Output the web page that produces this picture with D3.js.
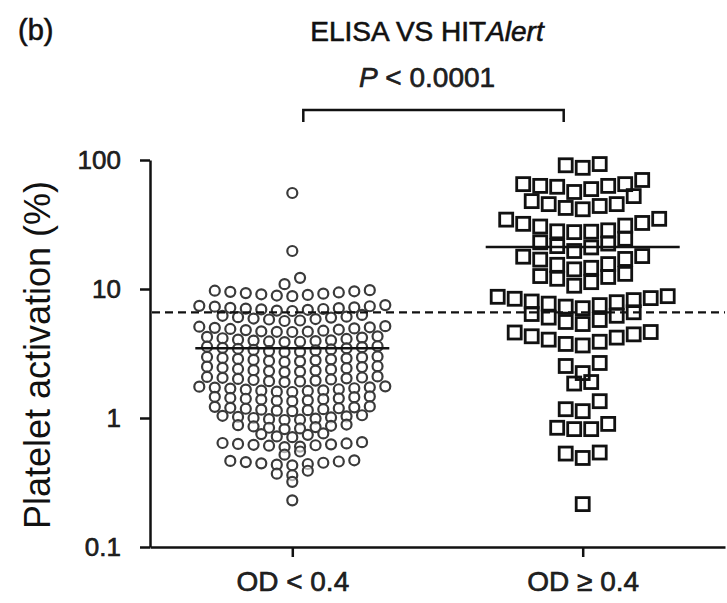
<!DOCTYPE html>
<html>
<head>
<meta charset="utf-8">
<script src="https://cdn.jsdelivr.net/npm/d3@7"></script>
<style>
  body { margin: 0; background: #fff; }
  svg { display: block; font-family: "Liberation Sans", Arial, sans-serif; }
  .lbl { stroke: #111; stroke-width: 0.6px; }
</style>
</head>
<body>
<svg id="chart" width="727" height="603"></svg>
<script>
// groups on the x axis
const groups = ["OD < 0.4", "OD \u2265 0.4"];
const yTicks = [0.1, 1, 10, 100];
const cutoff = 6.6; // dashed positivity threshold (%)

// platelet activation (%), OD < 0.4 (circles)
const odLow = [
  55.5, 19.7, 12.2, 10.9,
  9.8, 9.7, 9.6, 9.5, 9.4, 9.3, 9.2, 9.1, 9.0, 8.9, 8.8,
  7.5, 7.4, 7.35, 7.3, 7.2, 7.15, 7.1, 7.05, 7.0, 6.95, 6.9, 6.8, 6.75,
  6.3, 6.2, 6.1, 6.05, 6.0, 5.9, 5.85, 5.8, 5.7, 5.65,
  5.15, 5.1, 5.05, 5.0, 4.95, 4.9, 4.85, 4.8, 4.75, 4.7, 4.68, 4.66, 4.64,
  4.3, 4.25, 4.2, 4.15, 4.1, 4.05, 4.0, 3.98, 3.95, 3.92, 3.9, 3.88,
  3.6, 3.57, 3.54, 3.5, 3.47, 3.44, 3.4, 3.37, 3.34, 3.3, 3.27, 3.25,
  3.0, 2.97, 2.95, 2.92, 2.9, 2.87, 2.85, 2.82, 2.8, 2.77, 2.75, 2.72,
  2.52, 2.5, 2.48, 2.45, 2.43, 2.4, 2.38, 2.35, 2.33, 2.31, 2.29, 2.27,
  2.1, 2.08, 2.06, 2.05, 2.03, 2.01, 1.99, 1.97, 1.95, 1.93, 1.92, 1.9,
  1.76, 1.75, 1.73, 1.72, 1.7, 1.69, 1.67, 1.66, 1.64, 1.63, 1.62, 1.6, 1.59,
  1.47, 1.46, 1.45, 1.43, 1.42, 1.41, 1.4, 1.39, 1.37, 1.36, 1.35,
  1.23, 1.22, 1.21, 1.2, 1.19, 1.18, 1.17, 1.16, 1.15, 1.14, 1.13,
  1.05, 1.04, 1.03, 1.02, 1.01, 1.0, 0.99, 0.98, 0.97, 0.965,
  0.89, 0.88, 0.87, 0.86, 0.85, 0.84, 0.83, 0.82,
  0.76, 0.75, 0.74, 0.72, 0.71,
  0.65, 0.64, 0.635, 0.63, 0.625, 0.62, 0.615, 0.61, 0.6, 0.595,
  0.55, 0.52,
  0.47, 0.465, 0.46, 0.455, 0.45, 0.445, 0.44, 0.435, 0.43,
  0.39, 0.37, 0.36,
  0.32, 0.23
];

// OD >= 0.4 (squares)
const odHigh = [
  93, 91, 87,
  70, 65, 65, 63, 63, 62, 59.5, 56.5,
  52.5, 48, 45.5, 45.5, 44, 42.5, 41.5,
  35, 34.5, 32.5, 32, 31, 30.5, 28.5, 28, 27.8, 27.6,
  24.5, 23, 22.5, 21.5, 21, 19.7,
  18, 17.8, 17.1, 16.9, 15.6, 15.4, 14.6, 14.2,
  13.1, 12.6, 12.4, 12, 11.3, 10.6,
  8.8, 8.7, 8.5, 8.4, 8.2, 8.0, 7.9, 7.7, 7.5, 7.3, 7.1,
  6.6, 6.4, 6.2, 6.0, 5.75, 5.55, 5.35,
  4.64, 4.6, 4.45, 4.3, 4.2, 4.05, 3.9, 3.75, 3.65,
  2.67, 2.53, 2.23,
  1.9, 1.85,
  1.35, 1.17, 1.13,
  0.9, 0.84, 0.82, 0.82,
  0.54, 0.53, 0.49,
  0.215
];

const svg = d3.select("#chart");

const x = d3.scalePoint().domain(groups).range([150, 725]).padding(0.49);
const y = d3.scaleLog().domain([0.1, 100]).range([547, 160]);

// prism style scatter: bin points into rows, spread each row from the centre
function swarm(values, rowPx, gap) {
  const sorted = values.slice().sort((a, b) => b - a);
  const rows = [];
  let cur = null;
  sorted.forEach(v => {
    const py = y(v);
    if (!cur || py - cur.top > rowPx) {
      cur = {top: py, vals: []};
      rows.push(cur);
    }
    cur.vals.push(v);
  });
  const out = [];
  rows.forEach(r => {
    const n = r.vals.length;
    const slots = d3.range(n).map(i => i - (n - 1) / 2)
      .sort((a, b) => Math.abs(a) - Math.abs(b) || a - b);
    const asc = r.vals.slice().sort((a, b) => a - b);
    asc.forEach((v, i) => out.push({v: v, dx: slots[i] * gap}));
  });
  return out;
}

// axes
const yAxis = svg.append("g")
  .attr("transform", "translate(150,0)")
  .call(d3.axisLeft(y).tickValues(yTicks).tickFormat(d3.format("~g"))
    .tickSize(10).tickSizeOuter(0).tickPadding(19));
yAxis.select(".domain").attr("stroke", "#111").attr("stroke-width", 2.5);
yAxis.selectAll(".tick line").attr("stroke", "#111").attr("stroke-width", 2.5);
yAxis.selectAll(".tick text").attr("font-size", 26).attr("fill", "#222")
  .attr("class", "lbl")
  .attr("font-family", "Liberation Sans, Arial, sans-serif");

const xAxis = svg.append("g")
  .attr("transform", "translate(0,547)")
  .call(d3.axisBottom(x).tickSize(10).tickSizeOuter(0).tickPadding(14));
xAxis.select(".domain").attr("stroke", "#111").attr("stroke-width", 2.5);
xAxis.selectAll(".tick line").attr("stroke", "#111").attr("stroke-width", 2.5);
xAxis.selectAll(".tick text").attr("font-size", 28).attr("fill", "#222")
  .attr("class", "lbl")
  .attr("font-family", "Liberation Sans, Arial, sans-serif");

// points
const lowPts = swarm(odLow, 8, 15.5);
const highPts = swarm(odHigh, 14, 17);

svg.append("g").selectAll("circle")
  .data(lowPts)
  .join("circle")
  .attr("cx", d => x(groups[0]) + d.dx)
  .attr("cy", d => y(d.v))
  .attr("r", 5)
  .attr("fill", "#fff")
  .attr("fill-opacity", 0.6)
  .attr("stroke", "#3a3a3a")
  .attr("stroke-width", 2.2);

const sq = 13;
svg.append("g").selectAll("rect")
  .data(highPts)
  .join("rect")
  .attr("x", d => x(groups[1]) + d.dx - sq / 2)
  .attr("y", d => y(d.v) - sq / 2)
  .attr("width", sq)
  .attr("height", sq)
  .attr("fill", "none")
  .attr("stroke", "#111")
  .attr("stroke-width", 2.8);

// mean lines
const means = [d3.mean(odLow), d3.mean(odHigh)];
svg.append("g").selectAll("line")
  .data(means)
  .join("line")
  .attr("x1", (d, i) => x(groups[i]) - 97)
  .attr("x2", (d, i) => x(groups[i]) + 97)
  .attr("y1", d => y(d))
  .attr("y2", d => y(d))
  .attr("stroke", "#111")
  .attr("stroke-width", 2.5);

// cutoff
svg.append("line")
  .attr("x1", 152).attr("x2", 725)
  .attr("y1", y(cutoff)).attr("y2", y(cutoff))
  .attr("stroke", "#111")
  .attr("stroke-width", 2.2)
  .attr("stroke-dasharray", "8,5");

// significance bracket
svg.append("path")
  .attr("d", `M${x(groups[0]) + 11},122 V110 H${x(groups[1]) - 19} V122`)
  .attr("fill", "none")
  .attr("stroke", "#111")
  .attr("stroke-width", 2.5);

const pText = svg.append("text")
  .attr("class", "lbl")
  .attr("x", 427).attr("y", 87)
  .attr("text-anchor", "middle")
  .attr("font-size", 28)
  .attr("fill", "#222");
pText.append("tspan").attr("font-style", "italic").text("P");
pText.append("tspan").text(" < 0.0001");

const title = svg.append("text")
  .attr("class", "lbl")
  .attr("x", 427).attr("y", 41)
  .attr("text-anchor", "middle")
  .attr("font-size", 28)
  .attr("fill", "#111");
title.append("tspan").text("ELISA VS HIT");
title.append("tspan").attr("font-style", "italic").text("Alert");

svg.append("text")
  .attr("class", "lbl")
  .attr("x", 18).attr("y", 40)
  .attr("font-size", 29)
  .attr("fill", "#111")
  .text("(b)");

svg.append("text")
  .attr("transform", "translate(50,355) rotate(-90)")
  .attr("text-anchor", "middle")
  .attr("font-size", 36)
  .attr("fill", "#111")
  .text("Platelet activation (%)");
</script>
</body>
</html>
